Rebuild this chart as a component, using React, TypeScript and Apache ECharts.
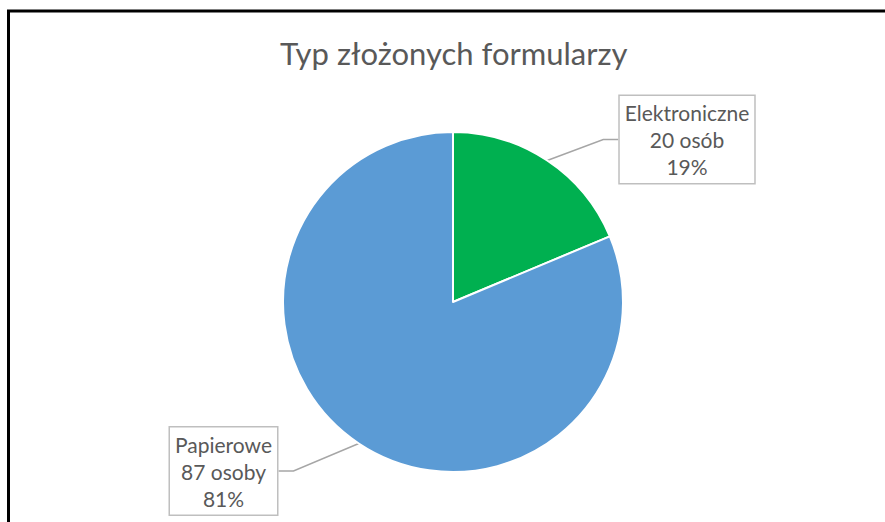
import React, { useEffect, useRef } from "react";
import * as echarts from "echarts";

const titleText = "Typ złożonych formularzy";
const categories = ["Elektroniczne", "Papierowe"];
const values = [20, 87];
const unitLabels = ["osób", "osoby"];
const colors = ["#00B050", "#5B9BD5"];

export default function App() {
  const ref = useRef<HTMLDivElement>(null);
  useEffect(() => {
    document.body.style.margin = "0";
    const chart = echarts.init(ref.current!, null, { renderer: "svg" });
    const labelPos: Record<string, [number, number]> = {
      Elektroniczne: [687, 139.5],
      Papierowe: [223.5, 471],
    };
    chart.setOption({
      animation: false,
      backgroundColor: "#ffffff",
      title: {
        text: titleText,
        left: 275,
        top: 32,
        textStyle: {
          fontFamily: "Lato",
          fontWeight: "normal",
          fontSize: 31,
          color: "#595959",
        },
      },
      graphic: [
        {
          type: "line",
          shape: { x1: 8.5, y1: 10, x2: 8.5, y2: 522 },
          style: { stroke: "#000", lineWidth: 3 },
        },
        {
          type: "line",
          shape: { x1: 7, y1: 11, x2: 885, y2: 11 },
          style: { stroke: "#000", lineWidth: 3 },
        },
      ],
      series: [
        {
          type: "pie",
          center: [453, 302],
          radius: 170,
          startAngle: 90,
          clockwise: true,
          percentPrecision: 0,
          itemStyle: { borderColor: "#ffffff", borderWidth: 2 },
          data: categories.map((name, i) => ({
            name,
            value: values[i],
            unit: unitLabels[i],
            itemStyle: { color: colors[i] },
          })),
          label: {
            show: true,
            position: "outside",
            formatter: (p: any) =>
              `${p.name}\n${p.value} ${p.data.unit}\n${p.percent}%`,
            fontFamily: "Lato",
            fontSize: 21,
            lineHeight: 27,
            color: "#595959",
            align: "center",
            backgroundColor: "#ffffff",
            borderColor: "#BFBFBF",
            borderWidth: 1.5,
            padding: [3, 5, 3, 5],
          },
          labelLine: {
            show: true,
            length: 20,
            length2: 15,
            lineStyle: { color: "#A6A6A6", width: 1.5 },
          },
          labelLayout: (params: any) => {
            const name = categories[params.dataIndex];
            const pos = labelPos[name];
            return {
              x: pos[0],
              y: pos[1],
              align: "center",
              verticalAlign: "middle",
            };
          },
        },
      ],
    });
    return () => chart.dispose();
  }, []);
  return (
    <div
      ref={ref}
      style={{ position: "fixed", left: 0, top: 0, width: 885, height: 522 }}
    />
  );
}
